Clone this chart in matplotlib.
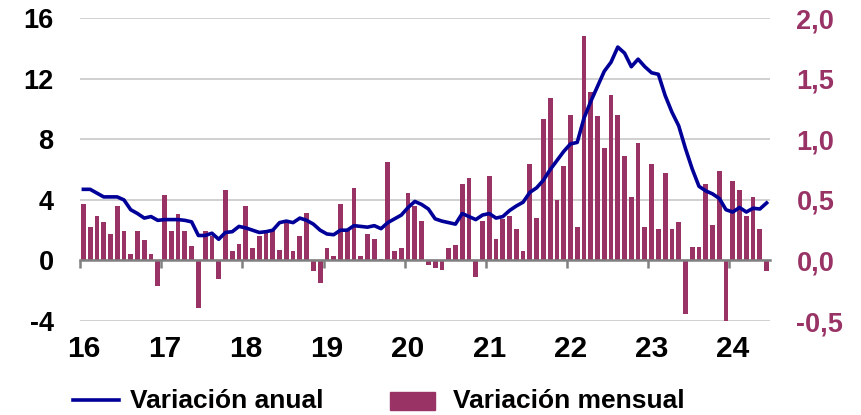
import matplotlib
matplotlib.use("Agg")
import matplotlib.pyplot as plt
from matplotlib.lines import Line2D
from matplotlib.patches import Rectangle
import numpy as np

plt.rcParams['font.family'] = ['Liberation Sans', 'DejaVu Sans']
plt.rcParams['font.weight'] = 'bold'

# Monthly series, Jan 2016 - Jun 2024
monthly = [
    0.47, 0.28, 0.37, 0.32, 0.22, 0.45, 0.24, 0.05, 0.24, 0.17, 0.05, -0.21,   # 2016
    0.54, 0.24, 0.38, 0.24, 0.12, -0.39, 0.24, 0.20, -0.15, 0.58, 0.08, 0.14,  # 2017
    0.45, 0.10, 0.20, 0.25, 0.25, 0.09, 0.32, 0.08, 0.20, 0.39, -0.09, -0.19,  # 2018
    0.10, 0.04, 0.47, 0.25, 0.60, 0.04, 0.22, 0.18, 0.01, 0.81, 0.08, 0.10,    # 2019
    0.56, 0.45, 0.33, -0.04, -0.06, -0.08, 0.10, 0.13, 0.63, 0.68, -0.14, 0.33,  # 2020
    0.70, 0.18, 0.34, 0.37, 0.26, 0.08, 0.80, 0.35, 1.17, 1.34, 0.50, 0.78,    # 2021
    1.20, 0.28, 1.85, 1.39, 1.19, 0.93, 1.37, 1.20, 0.86, 0.52, 0.97, 0.28,    # 2022
    0.80, 0.26, 0.72, 0.26, 0.32, -0.44, 0.11, 0.11, 0.63, 0.29, 0.74, -0.52,  # 2023
    0.66, 0.58, 0.37, 0.52, 0.26, -0.09,                                       # 2024
]

annual = [
    4.7, 4.7, 4.45, 4.2, 4.2, 4.2, 4.0, 3.35, 3.1, 2.8, 2.9, 2.65,      # 2016
    2.7, 2.7, 2.7, 2.65, 2.55, 1.65, 1.65, 1.8, 1.4, 1.85, 1.9, 2.25,   # 2017
    2.15, 2.0, 1.85, 1.9, 2.0, 2.5, 2.6, 2.5, 2.8, 2.65, 2.4, 2.0,      # 2018
    1.75, 1.7, 2.0, 2.0, 2.3, 2.25, 2.2, 2.3, 2.1, 2.5, 2.75, 3.0,      # 2019
    3.5, 3.9, 3.7, 3.4, 2.75, 2.6, 2.5, 2.4, 3.1, 2.9, 2.7, 3.0,        # 2020
    3.1, 2.8, 2.9, 3.3, 3.6, 3.85, 4.5, 4.8, 5.3, 6.0, 6.6, 7.2,        # 2021
    7.7, 7.8, 9.4, 10.5, 11.5, 12.5, 13.1, 14.1, 13.7, 12.8, 13.3, 12.8,  # 2022
    12.4, 12.3, 10.9, 9.8, 8.9, 7.4, 6.05, 4.9, 4.6, 4.4, 4.1, 3.35,    # 2023
    3.2, 3.5, 3.2, 3.45, 3.4, 3.8,                                      # 2024
]

year_labels = ['16', '17', '18', '19', '20', '21', '22', '23', '24']
left_ticks = [-4, 0, 4, 8, 12, 16]
right_ticks = [-0.5, 0.0, 0.5, 1.0, 1.5, 2.0]

BAR_COLOR = '#993366'
LINE_COLOR = '#000099'
GRID_COLOR = '#c8c8c8'
AXIS_COLOR = '#808080'

n = len(monthly)
x = np.arange(n) + 0.5

W, H = 861, 415
fig = plt.figure(figsize=(W / 100, H / 100), dpi=100)
ax = fig.add_axes([80 / W, (H - 321) / H, 690 / W, (321 - 18.3) / H])
ax2 = ax.twinx()

# Right axis: monthly bars with gridlines underneath
ax2.bar(x, monthly, width=0.7, color=BAR_COLOR, zorder=2)
ax2.set_ylim(-0.5, 2.0)
ax2.set_yticks(right_ticks)
ax2.set_yticklabels([f"{v:.1f}".replace('.', ',') for v in right_ticks],
                    color=BAR_COLOR, fontsize=19.5, fontweight='bold')
ax2.tick_params(axis='y', length=0, pad=19)
ax2.set_axisbelow(True)
ax2.grid(axis='y', color=GRID_COLOR, linewidth=1.2, zorder=0)
for s in ax2.spines.values():
    s.set_visible(False)

# Left axis: annual line on top
ax.set_zorder(ax2.get_zorder() + 1)
ax.patch.set_visible(False)
ax.plot(x, annual, color=LINE_COLOR, linewidth=2.6, solid_joinstyle='round', zorder=3)
ax.set_ylim(-4, 16)
ax.set_xlim(0, n)
ax.set_yticks(left_ticks)
ax.set_yticklabels([str(v) for v in left_ticks], fontsize=19.5, fontweight='bold', color='black')
ax.tick_params(axis='y', length=0, pad=19)

for side in ['left', 'right', 'top']:
    ax.spines[side].set_visible(False)
ax.spines['bottom'].set_position(('data', 0))
ax.spines['bottom'].set_color(AXIS_COLOR)
ax.spines['bottom'].set_linewidth(1.8)
ax.spines['bottom'].set_zorder(2.5)

year_starts = np.arange(0, n, 12)
ax.set_xticks(year_starts, minor=True)
ax.set_xticks(year_starts + 0.5)
ax.set_xticklabels(year_labels, fontsize=21.5, fontweight='bold')
ax.tick_params(axis='x', which='minor', direction='out', length=6, width=1.8, color=AXIS_COLOR)
ax.tick_params(axis='x', which='major', length=0, pad=54)

# Legend
fig.add_artist(Line2D([73 / W, 119 / W], [(H - 400) / H] * 2,
                      color=LINE_COLOR, linewidth=2.6, transform=fig.transFigure))
fig.text(130 / W, (H - 408) / H, 'Variación anual', fontsize=19, fontweight='bold',
         ha='left', va='baseline')
fig.add_artist(Rectangle((390 / W, (H - 410) / H), 45 / W, 18 / H,
                         color=BAR_COLOR, transform=fig.transFigure))
fig.text(453 / W, (H - 408) / H, 'Variación mensual', fontsize=19, fontweight='bold',
         ha='left', va='baseline')

fig.savefig('out.png', dpi=100)
